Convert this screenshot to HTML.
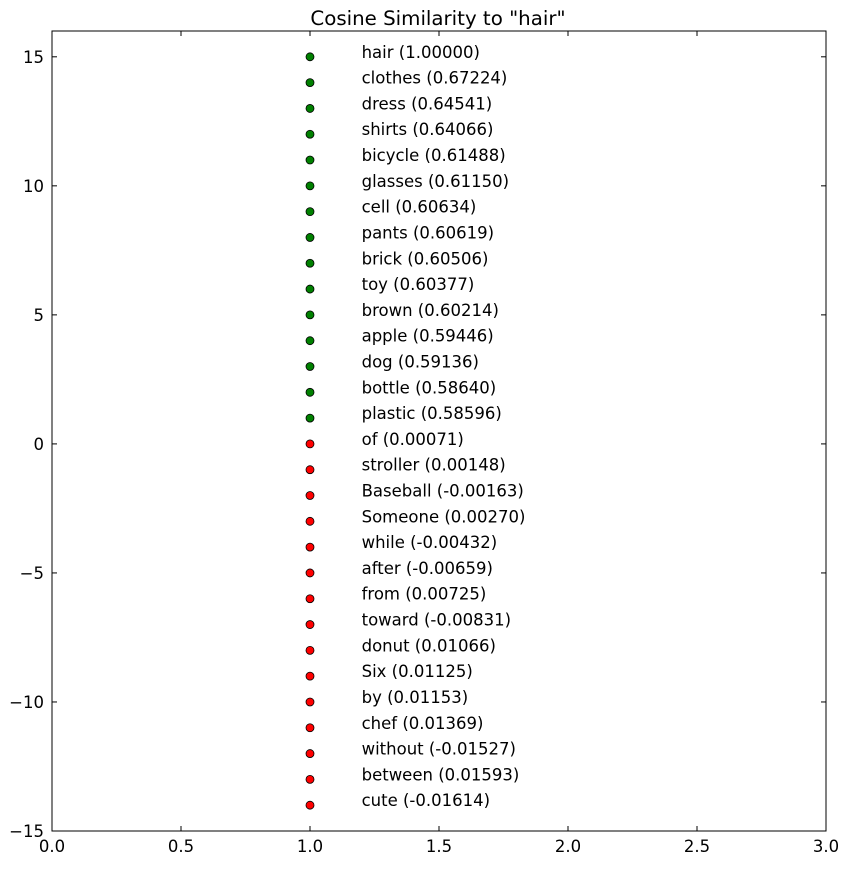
<!DOCTYPE html>
<html><head><meta charset="utf-8"><style>
body{margin:0;background:#fff;}
svg text{font-family:"DejaVu Sans","Liberation Sans",sans-serif;}
</style></head><body>
<svg id="chart" width="848" height="865" xmlns="http://www.w3.org/2000/svg">
<rect width="848" height="865" fill="#fff"/>
<text x="438" y="25" font-size="19.8" text-anchor="middle">Cosine Similarity to "hair"</text>
<g id="ticks"></g>
<g id="marks"></g>
<rect x="52" y="31" width="774" height="800" fill="none" stroke="#000" stroke-width="1"/>
</svg>
<script>
const words = ["hair","clothes","dress","shirts","bicycle","glasses","cell","pants","brick","toy","brown","apple","dog","bottle","plastic","of","stroller","Baseball","Someone","while","after","from","toward","donut","Six","by","chef","without","between","cute"];
const scores = ["1.00000","0.67224","0.64541","0.64066","0.61488","0.61150","0.60634","0.60619","0.60506","0.60377","0.60214","0.59446","0.59136","0.58640","0.58596","0.00071","0.00148","-0.00163","0.00270","-0.00432","-0.00659","0.00725","-0.00831","0.01066","0.01125","0.01153","0.01369","-0.01527","0.01593","-0.01614"];
const yPos = [15,14,13,12,11,10,9,8,7,6,5,4,3,2,1,0,-1,-2,-3,-4,-5,-6,-7,-8,-9,-10,-11,-12,-13,-14];
const colors = ["green","green","green","green","green","green","green","green","green","green","green","green","green","green","green","red","red","red","red","red","red","red","red","red","red","red","red","red","red","red"];
const xTicks = [0,0.5,1,1.5,2,2.5,3];
const xTickLabels = ["0.0","0.5","1.0","1.5","2.0","2.5","3.0"];
const yTicks = [15,10,5,0,-5,-10,-15];
const yTickLabels = ["15","10","5","0","\u22125","\u221210","\u221215"];
const L=52,R=826,T=31,B=831,xmin=0,xmax=3,ymin=-15,ymax=16;
const sx=v=>L+(v-xmin)/(xmax-xmin)*(R-L);
const sy=v=>B-(v-ymin)/(ymax-ymin)*(B-T);
const NS="http://www.w3.org/2000/svg";
function mk(tag,attrs,parent){const e=document.createElementNS(NS,tag);for(const k in attrs)e.setAttribute(k,attrs[k]);parent.appendChild(e);return e;}
const tg=document.getElementById('ticks'), mg=document.getElementById('marks');
xTicks.forEach((v,i)=>{const x=sx(v);
 let l=mk('line',{x1:x,x2:x,y1:B,y2:B-5,stroke:'#000'},tg);
 
 
 mk('line',{x1:x,x2:x,y1:T,y2:T+5,stroke:'#000'},tg);
 let t=mk('text',{x:x,y:B+21,'font-size':16.5,'text-anchor':'middle'},tg);t.textContent=xTickLabels[i];
 
 
});
yTicks.forEach((v,i)=>{const y=sy(v);
 let l=mk('line',{x1:L,x2:L+5,y1:y,y2:y,stroke:'#000'},tg);
 
 
 mk('line',{x1:R,x2:R-5,y1:y,y2:y,stroke:'#000'},tg);
 let t=mk('text',{x:L-8,y:y+6,'font-size':16.5,'text-anchor':'end'},tg);t.textContent=yTickLabels[i];
 
 
});
words.forEach((w,i)=>{const y=sy(yPos[i]);
 let c=mk('circle',{cx:sx(1),cy:y,r:4,fill:colors[i],stroke:'#000','stroke-width':0.8},mg);
 
 
 let t=mk('text',{x:sx(1.2),y:y+1,'font-size':16.5},mg);t.textContent=w+' ('+scores[i]+')';
 
 
});
</script>
</body></html>
